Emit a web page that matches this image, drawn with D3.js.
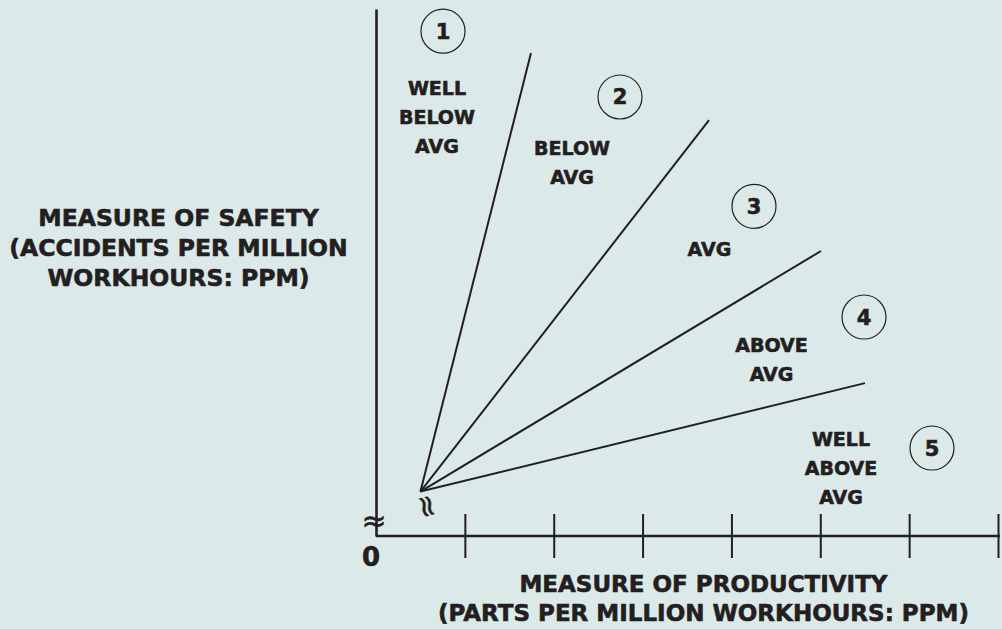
<!DOCTYPE html>
<html>
<head>
<meta charset="utf-8">
<script src="https://cdn.jsdelivr.net/npm/d3@7"></script>
<style>
  html, body { margin: 0; padding: 0; background: #dce9e9; }
  svg { display: block; }
  .zone, .title, .num { font-family: "DejaVu Sans", sans-serif; font-weight: bold; fill: #231f20; stroke: #231f20; stroke-width: 0.6px; }
  .brk { font-family: "DejaVu Sans", sans-serif; fill: #231f20; stroke: #231f20; stroke-width: 0.5px; }
</style>
</head>
<body>
<svg id="chart"></svg>
<script>
// productivity ticks (x) and the fan of rating lines
const xTicks = [1, 2, 3, 4, 5, 6, 7];
const origin = [0.5, 0.5];
const rayEndX = [1.744, 3.748, 5.008, 5.503];
const rayEndY = [5.435, 4.68, 3.207, 1.72];

// numbered zones
const zoneNums = ['1', '2', '3', '4', '5'];
const circleX = [0.754, 2.746, 4.254, 5.492, 6.257];
const circleY = [5.68, 4.94, 3.71, 2.464, 0.99];
const zoneLabels = [
  ['WELL', 'BELOW', 'AVG'],
  ['BELOW', 'AVG'],
  ['AVG'],
  ['ABOVE', 'AVG'],
  ['WELL', 'ABOVE', 'AVG'],
];
const zoneLabelX = [0.686, 2.206, 3.753, 4.451, 5.233];
const zoneLabelY = [4.962, 4.287, 3.151, 2.07, 1.013];

const yTitle = ['MEASURE OF SAFETY', '(ACCIDENTS PER MILLION', 'WORKHOURS: PPM)'];
const xTitle = ['MEASURE OF PRODUCTIVITY', '(PARTS PER MILLION WORKHOURS: PPM)'];

// svg config
const width = 1002, height = 629;
const xMax = 7, yMax = 5.93;
const ink = '#231f20';

const svg = d3.select('#chart').attr('width', width).attr('height', height);

const xScale = d3.scaleLinear().domain([0, xMax]).range([376, 998]);
const yScale = d3.scaleLinear().domain([0, yMax]).range([536, 9]);

// axes
const xAxis = d3.axisBottom(xScale).tickValues(xTicks).tickSizeOuter(0).tickFormat('');
const yAxis = d3.axisLeft(yScale).tickValues([]).tickSizeOuter(0);

const xAxisNode = svg.append('g')
  .attr('transform', `translate(0,${yScale(0)})`)
  .call(xAxis);
xAxisNode.select('.domain')
  .attr('d', `M${xScale(0)},0H${xScale(xMax) + 2}`)
  .attr('stroke', ink).attr('stroke-width', 2.4);
xAxisNode.selectAll('.tick line')
  .attr('y1', -22).attr('y2', 22)
  .attr('stroke', ink).attr('stroke-width', 2);

const yAxisNode = svg.append('g')
  .attr('transform', `translate(${xScale(0)},0)`)
  .call(yAxis);
yAxisNode.select('.domain')
  .attr('stroke', ink).attr('stroke-width', 2.6);

// zero label and axis break marks
svg.append('text').attr('class', 'title')
  .attr('x', xScale(0) - 5).attr('y', yScale(0) + 30)
  .attr('text-anchor', 'middle').style('font-size', '26px')
  .text('0');
svg.append('text').attr('class', 'brk')
  .attr('x', xScale(0) - 2).attr('y', yScale(0) - 14)
  .attr('dy', '0.3em')
  .attr('text-anchor', 'middle').style('font-size', '30px')
  .text('≈');
svg.append('text').attr('class', 'brk')
  .attr('transform', `translate(${xScale(origin[0]) + 6},${yScale(origin[1]) + 15}) rotate(75)`)
  .attr('text-anchor', 'middle').attr('dy', '0.3em')
  .style('font-size', '30px')
  .text('≈');

// rays
svg.append('g').selectAll('line')
  .data(rayEndX)
  .join('line')
  .attr('x1', xScale(origin[0])).attr('y1', yScale(origin[1]))
  .attr('x2', d => xScale(d)).attr('y2', (d, i) => yScale(rayEndY[i]))
  .attr('stroke', ink).attr('stroke-width', 2);

// numbered circles
const nums = svg.append('g').selectAll('g')
  .data(zoneNums)
  .join('g')
  .attr('transform', (d, i) => `translate(${xScale(circleX[i])},${yScale(circleY[i])})`);
nums.append('circle').attr('r', 22)
  .attr('fill', 'none').attr('stroke', ink).attr('stroke-width', 1.2);
nums.append('text').attr('class', 'num')
  .attr('text-anchor', 'middle').attr('y', 7.5)
  .style('font-size', '21px')
  .text(d => d);

// zone labels
zoneLabels.forEach((lines, i) => {
  const t = svg.append('text').attr('class', 'zone')
    .attr('text-anchor', 'middle')
    .style('font-size', '19px');
  lines.forEach((s, j) => {
    t.append('tspan')
      .attr('x', xScale(zoneLabelX[i]))
      .attr('y', yScale(zoneLabelY[i]) + j * 29)
      .text(s);
  });
});

// axis titles
const yt = svg.append('text').attr('class', 'title')
  .attr('text-anchor', 'middle').style('font-size', '23.5px');
yTitle.forEach((s, j) => {
  yt.append('tspan').attr('x', 178.5).attr('y', 226 + j * 30).text(s);
});
const xt = svg.append('text').attr('class', 'title')
  .attr('text-anchor', 'middle').style('font-size', '23px');
xTitle.forEach((s, j) => {
  xt.append('tspan').attr('x', 703.5).attr('y', 592 + j * 29).text(s);
});
</script>
</body>
</html>
